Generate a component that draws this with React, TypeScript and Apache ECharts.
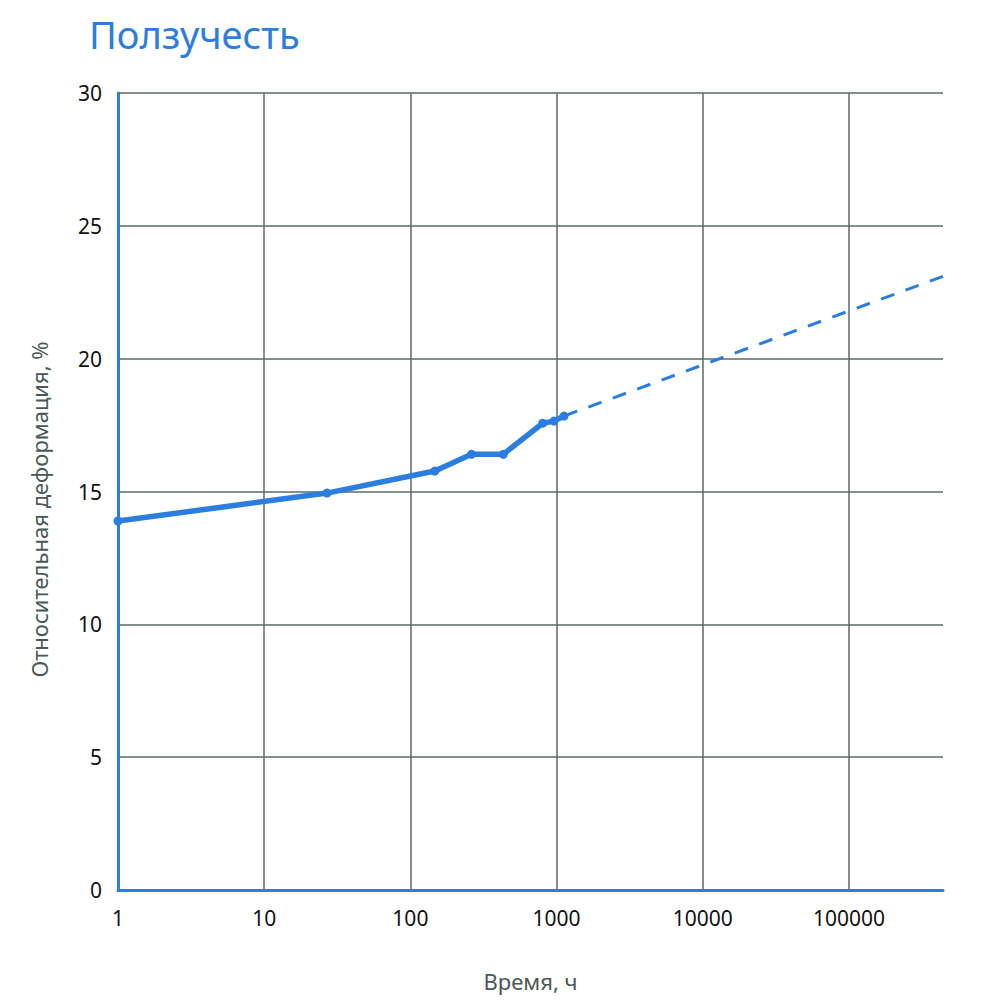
import React, { useEffect, useRef } from "react";
import * as echarts from "echarts";

const measuredTimes = [1, 26.9, 147, 262, 432, 804, 960, 1124];
const measuredStrain = [13.89, 14.94, 15.77, 16.4, 16.4, 17.57, 17.65, 17.84];
const forecastTimes = [1124, 440000];
const forecastStrain = [17.84, 23.1];
const xMin = 1;
const xMax = 440000;
const yTicks = [0, 5, 10, 15, 20, 25, 30];

const BLUE = "#2b7de0";
const GRID = "#5e6a68";

export default function App() {
  const ref = useRef<HTMLDivElement>(null);
  useEffect(() => {
    if (!ref.current) return;
    const chart = echarts.init(ref.current, undefined, { renderer: "svg" });
    chart.setOption({
      animation: false,
      backgroundColor: "#ffffff",
      title: {
        text: "Ползучесть",
        left: 84,
        top: 10,
        textStyle: {
          color: BLUE,
          fontFamily: "Noto Sans",
          fontSize: 38,
          fontWeight: "normal",
        },
      },
      grid: { left: 118, right: 57, top: 93, bottom: 110, containLabel: false },
      xAxis: {
        type: "log",
        logBase: 10,
        min: xMin,
        max: xMax,
        name: "Время, ч",
        nameLocation: "middle",
        nameGap: 80,
        nameTextStyle: { color: "#4a5757", fontFamily: "Noto Sans", fontSize: 22 },
        axisLine: { show: true, lineStyle: { color: BLUE, width: 3 } },
        axisTick: { show: false },
        axisLabel: {
          color: "#111",
          fontFamily: "Noto Sans",
          fontSize: 21,
          margin: 17,
          showMaxLabel: false,
          formatter: (v: number) => String(Math.round(v)),
        },
        splitLine: { show: true, showMaxLine: false, lineStyle: { color: GRID, width: 1.5 } },
      },
      yAxis: {
        type: "value",
        min: yTicks[0],
        max: yTicks[yTicks.length - 1],
        interval: 5,
        name: "Относительная деформация, %",
        nameLocation: "middle",
        nameGap: 68,
        nameRotate: 90,
        nameTextStyle: { color: "#4a5757", fontFamily: "Noto Sans", fontSize: 22, padding: [0, 0, 0, -36] },
        axisLine: { show: true, lineStyle: { color: BLUE, width: 3 } },
        axisTick: { show: false },
        axisLabel: { color: "#111", fontFamily: "Noto Sans", fontSize: 21, margin: 16 },
        splitLine: { show: true, lineStyle: { color: GRID, width: 1.5 } },
      },
      series: [
        {
          type: "line",
          data: forecastTimes.map((t, i) => [t, forecastStrain[i]]),
          symbol: "none",
          lineStyle: { color: BLUE, width: 3, type: [14, 12] },
          z: 2,
        },
        {
          type: "line",
          data: measuredTimes.map((t, i) => [t, measuredStrain[i]]),
          symbol: "circle",
          symbolSize: 9,
          itemStyle: { color: BLUE },
          lineStyle: { color: BLUE, width: 5.5 },
          z: 3,
        },
      ],
    });
    return () => chart.dispose();
  }, []);
  return (
    <div
      ref={ref}
      style={{ position: "fixed", left: 0, top: 0, width: 1000, height: 1000 }}
    />
  );
}
